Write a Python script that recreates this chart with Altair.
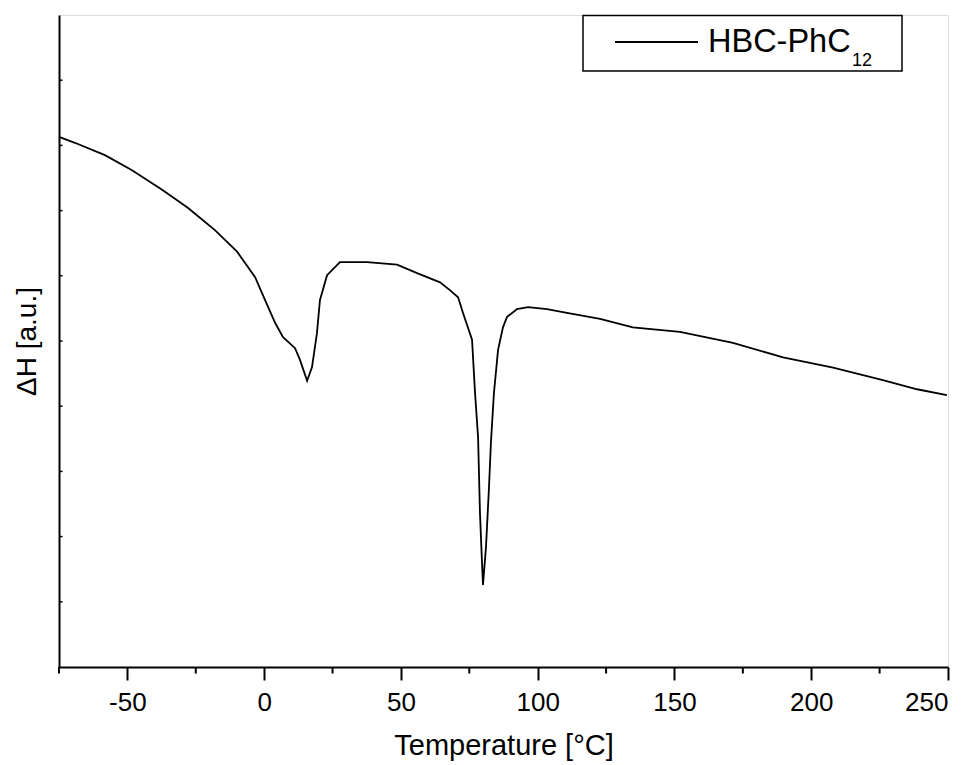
import altair as alt
import pandas as pd

# DSC trace (temperature in °C, heat flow in arbitrary units)
temperature = [-75.0, -69.2, -58.2, -48.3, -37.3, -27.8, -18.0, -9.9, -3.3, 0.3,
               4.0, 6.9, 11.3, 13.1, 15.7, 17.5, 19.3, 20.4, 23.0, 27.7,
               37.6, 48.6, 55.9, 64.3, 67.9, 70.9, 72.7, 76.0, 77.1, 78.2,
               78.9, 79.6, 80.0, 81.1, 82.2, 82.9, 84.0, 85.5, 87.3, 88.8,
               91.0, 92.4, 96.5, 103.4, 110.7, 122.8, 134.8, 152.0, 171.4, 189.7,
               208.0, 226.2, 238.7, 249.6]
heat = [8.13, 8.04, 7.85, 7.62, 7.32, 7.04, 6.70, 6.37, 5.98, 5.63,
        5.28, 5.06, 4.89, 4.71, 4.39, 4.60, 5.12, 5.63, 6.01, 6.21,
        6.21, 6.17, 6.04, 5.90, 5.78, 5.67, 5.43, 5.02, 4.20, 3.53,
        2.36, 1.64, 1.26, 1.84, 2.76, 3.44, 4.20, 4.86, 5.21, 5.37,
        5.44, 5.49, 5.52, 5.49, 5.43, 5.34, 5.21, 5.14, 4.97, 4.75,
        4.59, 4.40, 4.26, 4.17]

x_major = [-50, 0, 50, 100, 150, 200, 250]
x_minor = [-75, -25, 25, 75, 125, 175, 225]
y_ticks = [1, 2, 3, 4, 5, 6, 7, 8, 9]
series_name = "HBC-PhC"
series_sub = "12"

FONT = "Liberation Sans"
W, H = 889, 652

df = pd.DataFrame({"T": temperature, "H": heat})
xscale = alt.Scale(domain=[-75, 250], nice=False, zero=False)
yscale = alt.Scale(domain=[0, 10], nice=False, zero=False)

line = alt.Chart(df).mark_line(color="black", strokeWidth=1.8).encode(
    x=alt.X("T:Q", scale=xscale,
            axis=alt.Axis(title="Temperature [°C]", values=x_major, tickSize=13,
                          tickWidth=2, domainWidth=2, domainColor="black",
                          tickColor="black", labelFontSize=26, labelColor="black",
                          labelExpr="'' + datum.value",
                          labelPadding=9, titleFontSize=29, titleFontWeight="normal",
                          titleColor="black", titlePadding=16, grid=False,
                          labelFont=FONT, titleFont=FONT)),
    y=alt.Y("H:Q", scale=yscale,
            axis=alt.Axis(title="ΔH [a.u.]", ticks=False, labels=False,
                          domainWidth=2, domainColor="black", titleFontSize=28,
                          titleFontWeight="normal", titleColor="black",
                          titlePadding=18, grid=False, titleFont=FONT)),
)

minor = alt.Chart(pd.DataFrame({"T": x_minor})).mark_rule(
    color="black", strokeWidth=2).encode(
    x=alt.X("T:Q", scale=xscale),
    y=alt.value(H), y2=alt.value(H + 6.5),
)

yt = alt.Chart(pd.DataFrame({"H": y_ticks})).mark_rule(
    color="black", strokeWidth=1.5).encode(
    y=alt.Y("H:Q", scale=yscale),
    x=alt.value(0), x2=alt.value(3.5),
)

one = pd.DataFrame({"k": [0]})
box = alt.Chart(one).mark_rect(fill="white", stroke="black", strokeWidth=1.5).encode(
    x=alt.value(524), x2=alt.value(843), y=alt.value(0.5), y2=alt.value(56),
)
sample = alt.Chart(one).mark_rule(color="black", strokeWidth=1.8).encode(
    x=alt.value(556), x2=alt.value(639), y=alt.value(27),
)
label = alt.Chart(one).mark_text(
    text=series_name, font=FONT, fontSize=32.5, align="left",
    baseline="alphabetic", color="black").encode(
    x=alt.value(649), y=alt.value(37))
sub = alt.Chart(one).mark_text(
    text=series_sub, font=FONT, fontSize=18, align="left",
    baseline="alphabetic", color="black").encode(
    x=alt.value(793), y=alt.value(51))

chart = alt.layer(line, minor, yt, box, sample, label, sub).properties(
    width=W, height=H,
    autosize=alt.AutoSizeParams(type="none"),
    padding={"left": 51, "top": 7, "right": 16, "bottom": 98},
).configure_view(stroke=None).configure(font=FONT)

chart.save("out.html", embed_options={"renderer": "svg", "actions": False})
